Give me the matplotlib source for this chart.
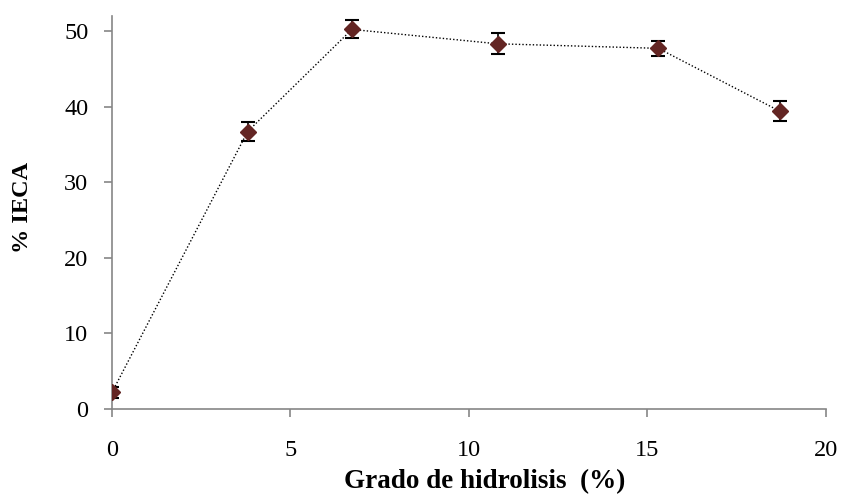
import matplotlib
matplotlib.use("Agg")
import matplotlib.pyplot as plt

# Degree of hydrolysis (%) vs ACE inhibition (%)
grado = [0.0, 3.8, 6.72, 10.8, 15.3, 18.7]
ieca = [2.2, 36.7, 50.2, 48.3, 47.7, 39.4]
error = [0.7, 1.3, 1.2, 1.4, 1.0, 1.35]
xticks = [0, 5, 10, 15, 20]
yticks = [0, 10, 20, 30, 40, 50]

plt.rcParams["font.family"] = ["Liberation Serif", "DejaVu Serif"]

fig = plt.figure(figsize=(8.42, 4.94), dpi=100)
ax = fig.add_axes([0.133, 0.172, 0.848, 0.796])

ax.plot(grado, ieca, linestyle=(0, (1, 1.5)), color="black", linewidth=1.0, zorder=2)
ax.errorbar(grado, ieca, yerr=error, fmt="none", ecolor="black",
            elinewidth=1.2, capsize=5, capthick=1.5, zorder=3)
ax.plot(grado, ieca, linestyle="none", marker="D", markersize=8.5,
        color="#632523", markeredgecolor="#632523", zorder=4)

ax.set_xlim(0, 20)
ax.set_ylim(0, 52)
ax.set_xticks(xticks)
ax.set_yticks(yticks)

for side in ("top", "right"):
    ax.spines[side].set_visible(False)
for side in ("left", "bottom"):
    ax.spines[side].set_color("#868686")
    ax.spines[side].set_linewidth(1.2)
ax.tick_params(axis="both", colors="#868686", labelcolor="black",
               labelsize=17.5, length=6, width=1.2, direction="out")
ax.tick_params(axis="x", pad=16)
ax.tick_params(axis="y", pad=11)

ax.set_xlabel("Grado de hidrolisis  (%)", fontsize=19.5, fontweight="bold")
ax.xaxis.set_label_coords(0.522, -0.152)
ax.set_ylabel("% IECA", fontsize=17.5, fontweight="bold")
ax.yaxis.set_label_coords(-0.110, 0.513)

fig.savefig("out.png", dpi=100)
